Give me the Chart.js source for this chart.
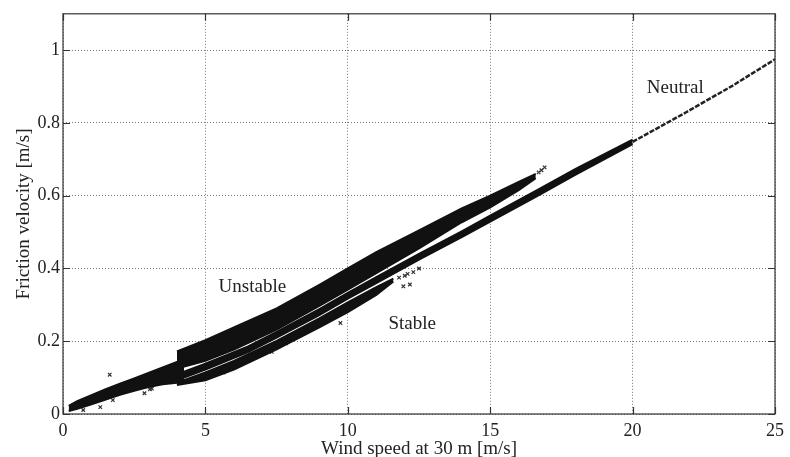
<!DOCTYPE html>
<html>
<head>
<meta charset="utf-8">
<script src="https://cdn.jsdelivr.net/npm/chart.js@4.4.1/dist/chart.umd.min.js"></script>
<style>
  html, body { margin: 0; padding: 0; background: #fff; }
  #wrap { width: 790px; height: 457px; }
</style>
</head>
<body>
<div id="wrap"><canvas id="chart" width="790" height="457"></canvas></div>
<script>
// below ~4 m/s the three regimes overlap in one band
const lowX     = [0.2, 0.5, 1, 1.5, 2, 2.5, 3, 3.5, 4.0, 4.25];
const lowUpper = [0.022, 0.035, 0.052, 0.068, 0.083, 0.098, 0.113, 0.128, 0.143, 0.15];
const lowLower = [0.008, 0.014, 0.027, 0.040, 0.053, 0.064, 0.074, 0.082, 0.086, 0.092];

const unstableX     = [4.0, 5, 6, 7.5, 9, 10, 11, 12.5, 14, 15, 16, 16.6];
const unstableUpper = [0.172, 0.203, 0.238, 0.29, 0.355, 0.40, 0.445, 0.505, 0.565, 0.60, 0.638, 0.66];
const unstableLower = [0.125, 0.146, 0.177, 0.232, 0.297, 0.342, 0.387, 0.455, 0.527, 0.568, 0.615, 0.648];

const neutralX     = [3.9, 5, 6.5, 7.5, 9, 10, 11, 12.5, 14, 15, 16.6, 18, 20];
const neutralUpper = [0.106, 0.138, 0.186, 0.226, 0.288, 0.333, 0.376, 0.44, 0.502, 0.545, 0.613, 0.674, 0.754];
const neutralLower = [0.090, 0.122, 0.170, 0.210, 0.272, 0.317, 0.360, 0.424, 0.486, 0.529, 0.597, 0.658, 0.742];
const neutralTailX = [20, 21.85, 23.5, 25];
const neutralTailY = [0.748, 0.828, 0.902, 0.975];

const stableX     = [4.0, 5, 6, 7.5, 9, 10, 11, 11.6];
const stableUpper = [0.086, 0.114, 0.146, 0.201, 0.263, 0.307, 0.349, 0.372];
const stableLower = [0.080, 0.093, 0.122, 0.178, 0.238, 0.28, 0.327, 0.364];

// sparse single markers (tails and outliers)
const markX = [0.71, 1.31, 1.64, 1.75, 2.86, 3.05, 3.12, 5.64, 6.03, 7.33, 7.83, 9.74, 11.95, 12.18,
               11.8, 12.0, 12.1, 12.3, 12.5,
               16.7, 16.8, 16.91];
const markY = [0.011, 0.019, 0.108, 0.038, 0.057, 0.068, 0.07, 0.114, 0.128, 0.171, 0.194, 0.25, 0.351, 0.356,
               0.375, 0.38, 0.385, 0.39, 0.40,
               0.664, 0.67, 0.678];

const xTicks = [0, 5, 10, 15, 20, 25];
const yTicks = [0, 0.2, 0.4, 0.6, 0.8, 1];

const labelText = ['Neutral', 'Unstable', 'Stable'];
const labelX = [21.5, 6.65, 12.26];
const labelY = [0.896, 0.348, 0.247];

const SERIF = '"Liberation Serif", "Times New Roman", serif';
const INK = '#111';

function pts(xs, ys) {
  return xs.map((v, i) => ({ x: v, y: ys[i] }));
}

function band(xs, up, lo) {
  return [
    { data: pts(xs, up), borderColor: INK, borderWidth: 2, pointRadius: 0, fill: false },
    { data: pts(xs, lo), borderColor: INK, borderWidth: 2, pointRadius: 0, fill: '-1', backgroundColor: INK }
  ];
}

const datasets = [].concat(
  band(lowX, lowUpper, lowLower),
  band(unstableX, unstableUpper, unstableLower),
  band(neutralX, neutralUpper, neutralLower),
  band(stableX, stableUpper, stableLower),
  [
    { data: pts(neutralTailX, neutralTailY), borderColor: '#222', borderWidth: 2.5,
      borderDash: [5, 1.5], pointRadius: 0, fill: false },
    { data: pts(markX, markY), showLine: false, pointStyle: 'crossRot', pointRadius: 2.5,
      borderColor: '#333', borderWidth: 1.2, fill: false }
  ]
);

// matlab-like box with inward ticks
const boxTicks = {
  id: 'boxTicks',
  afterDraw(chart) {
    const { ctx, chartArea: a, scales: { x, y } } = chart;
    ctx.save();
    ctx.strokeStyle = '#333';
    ctx.lineWidth = 1.2;
    ctx.strokeRect(a.left, a.top, a.width, a.height);
    ctx.beginPath();
    x.ticks.forEach(t => {
      const px = Math.round(x.getPixelForValue(t.value)) + 0.5;
      ctx.moveTo(px, a.bottom); ctx.lineTo(px, a.bottom - 7);
      ctx.moveTo(px, a.top); ctx.lineTo(px, a.top + 7);
    });
    y.ticks.forEach(t => {
      const py = Math.round(y.getPixelForValue(t.value)) + 0.5;
      ctx.moveTo(a.left, py); ctx.lineTo(a.left + 7, py);
      ctx.moveTo(a.right, py); ctx.lineTo(a.right - 7, py);
    });
    ctx.stroke();
    ctx.restore();
  }
};

const regimeLabels = {
  id: 'regimeLabels',
  afterDatasetsDraw(chart) {
    const { ctx, scales: { x, y } } = chart;
    ctx.save();
    ctx.font = '19px ' + SERIF;
    ctx.fillStyle = '#222';
    ctx.textAlign = 'center';
    ctx.textBaseline = 'middle';
    labelText.forEach((t, i) => {
      ctx.fillText(t, x.getPixelForValue(labelX[i]), y.getPixelForValue(labelY[i]));
    });
    ctx.restore();
  }
};

new Chart(document.getElementById('chart'), {
  type: 'line',
  data: { datasets: datasets },
  options: {
    responsive: false,
    animation: false,
    events: [],
    elements: { line: { tension: 0 } },
    layout: { padding: { top: 12, right: 10, left: 0, bottom: 0 } },
    plugins: { legend: { display: false }, tooltip: { enabled: false } },
    scales: {
      x: {
        type: 'linear',
        min: 0, max: 25,
        afterBuildTicks: s => { s.ticks = xTicks.map(v => ({ value: v })); },
        afterFit: s => { s.height = 43; },
        grid: { color: '#777', lineWidth: 1, drawTicks: false },
        border: { display: false, dash: [1, 2] },
        ticks: { padding: 6, color: '#222', font: { family: SERIF, size: 18 }, maxRotation: 0 },
        title: { display: true, text: 'Wind speed at 30 m [m/s]', color: '#222',
                 font: { family: SERIF, size: 19, lineHeight: 0.8 }, padding: { top: 0, bottom: 0 } }
      },
      y: {
        type: 'linear',
        min: 0, max: 1.1,
        afterBuildTicks: s => { s.ticks = yTicks.map(v => ({ value: v })); },
        afterFit: s => { s.width = 63; },
        grid: { color: '#777', lineWidth: 1, drawTicks: false },
        border: { display: false, dash: [1, 2] },
        ticks: { padding: 3, color: '#222', font: { family: SERIF, size: 18 },
                 callback: v => String(v) },
        title: { display: true, text: 'Friction velocity [m/s]', color: '#222',
                 font: { family: SERIF, size: 19, lineHeight: 1 }, padding: { top: 15, bottom: 0 } }
      }
    }
  },
  plugins: [boxTicks, regimeLabels]
});
</script>
</body>
</html>
